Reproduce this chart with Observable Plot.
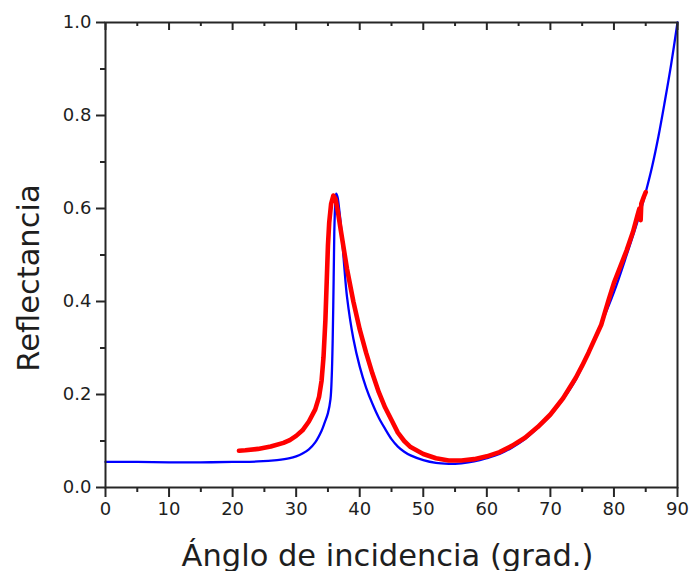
<!DOCTYPE html>
<html>
<head>
<meta charset="utf-8">
<script src="https://cdn.jsdelivr.net/npm/d3@7"></script>
<script src="https://cdn.jsdelivr.net/npm/@observablehq/plot@0.6"></script>
<style>
  html, body { margin: 0; padding: 0; background: #ffffff; }
</style>
</head>
<body>
<div id="chart"></div>
<script>
// Theoretical curve (blue)
const theoryAngle = [0, 5, 10, 15, 20, 24, 27, 29, 30, 31, 32, 33, 34, 34.5, 35, 35.4, 35.6, 35.75, 35.9, 36.0, 36.15, 36.3, 36.5, 36.8, 37.2, 37.6, 38, 39, 40, 41, 42, 43, 44, 45, 46, 47, 48, 50, 52, 54, 55, 56, 58, 60, 62, 64, 66, 68, 70, 72, 74, 76, 78, 80, 82, 84, 85, 86, 87, 88, 89, 90];
const theoryR     = [0.055, 0.055, 0.054, 0.054, 0.055, 0.056, 0.059, 0.063, 0.067, 0.073, 0.082, 0.097, 0.122, 0.140, 0.160, 0.190, 0.240, 0.320, 0.450, 0.550, 0.610, 0.632, 0.625, 0.595, 0.540, 0.470, 0.410, 0.320, 0.260, 0.215, 0.180, 0.150, 0.126, 0.104, 0.088, 0.077, 0.069, 0.059, 0.053, 0.051, 0.051, 0.052, 0.056, 0.063, 0.072, 0.086, 0.104, 0.128, 0.155, 0.190, 0.232, 0.290, 0.352, 0.420, 0.500, 0.585, 0.635, 0.690, 0.755, 0.830, 0.910, 1.000];

// Measured data (red)
const measAngle = [21, 22, 24, 26, 28, 29, 30, 31, 32, 33, 33.6, 34.0, 34.3, 34.6, 34.8, 35.0, 35.2, 35.5, 35.85, 36.2, 36.6, 37, 38, 39, 40, 41, 42, 43, 44, 45, 46, 47, 48, 50, 52, 54, 56, 58, 60, 62, 64, 66, 68, 70, 72, 74, 75, 76, 78, 79.2, 80, 81, 82, 83, 83.7, 84.0, 84.2, 84.3, 84.7, 85.0];
const measR     = [0.079, 0.080, 0.083, 0.088, 0.096, 0.102, 0.111, 0.123, 0.142, 0.168, 0.195, 0.230, 0.280, 0.360, 0.440, 0.520, 0.570, 0.610, 0.628, 0.620, 0.590, 0.555, 0.470, 0.400, 0.340, 0.290, 0.245, 0.205, 0.172, 0.145, 0.118, 0.100, 0.087, 0.072, 0.063, 0.058, 0.058, 0.061, 0.067, 0.076, 0.090, 0.107, 0.130, 0.157, 0.192, 0.236, 0.262, 0.290, 0.350, 0.405, 0.440, 0.475, 0.510, 0.550, 0.585, 0.600, 0.575, 0.610, 0.625, 0.635];

// Ticks
const xTicks = [0, 10, 20, 30, 40, 50, 60, 70, 80, 90];
const xMinor = [5, 15, 25, 35, 45, 55, 65, 75, 85];
const yTicks = [0, 0.2, 0.4, 0.6, 0.8, 1.0];
const yMinor = [0.1, 0.3, 0.5, 0.7, 0.9];

const xTitle = "Ánglo de incidencia (grad.)";
const yTitle = "Reflectancia";

const theory = theoryAngle.map((a, i) => ({a, r: theoryR[i]}));
const meas = measAngle.map((a, i) => ({a, r: measR[i]}));

const ink = "#262626";
const none = () => "";

const chart = Plot.plot({
  width: 692,
  height: 571,
  marginLeft: 105,
  marginRight: 15,
  marginTop: 22,
  marginBottom: 84,
  style: {fontFamily: "'DejaVu Sans', Verdana, sans-serif", fontSize: "18px", color: "#1e1e1e", background: "#ffffff"},
  x: {domain: [0, 90], label: null},
  y: {domain: [0, 1], label: null},
  marks: [
    Plot.line(theory, {x: "a", y: "r", stroke: "#0000ff", strokeWidth: 2.3, curve: "catmull-rom"}),
    Plot.line(meas, {x: "a", y: "r", stroke: "#ff0000", strokeWidth: 4.6, strokeLinecap: "round", strokeLinejoin: "round"}),
    Plot.frame({stroke: ink, strokeWidth: 2}),
    Plot.axisY(yTicks, {tickSize: 9, tickPadding: 5, tickFormat: d3.format(".1f"), stroke: ink, strokeWidth: 2, fontSize: 18, label: null}),
    Plot.axisY(yMinor, {tickSize: 5, tickFormat: none, stroke: ink, strokeWidth: 2, label: null}),
    Plot.axisX(xTicks, {tickSize: 10, tickPadding: 5, tickFormat: d3.format("d"), stroke: ink, strokeWidth: 2, fontSize: 18, label: null}),
    Plot.axisX(xMinor, {tickSize: 5, tickFormat: none, stroke: ink, strokeWidth: 2, label: null}),
    Plot.axisX(xTicks, {anchor: "bottom", frameAnchor: "top", tickSize: 8, tickFormat: none, stroke: ink, strokeWidth: 2, label: null}),
    Plot.axisX(xMinor, {anchor: "bottom", frameAnchor: "top", tickSize: 4, tickFormat: none, stroke: ink, strokeWidth: 2, label: null}),
    Plot.text([xTitle], {frameAnchor: "bottom", textAnchor: "middle", lineAnchor: "bottom", dx: -4, dy: 78, fontSize: 30.5, fill: "#1e1e1e", text: d => d}),
    Plot.text([yTitle], {frameAnchor: "left", textAnchor: "middle", lineAnchor: "bottom", rotate: -90, dx: -67, dy: 23, fontSize: 30.5, fill: "#1e1e1e", text: d => d})
  ]
});
document.getElementById("chart").appendChild(chart);
</script>
</body>
</html>
